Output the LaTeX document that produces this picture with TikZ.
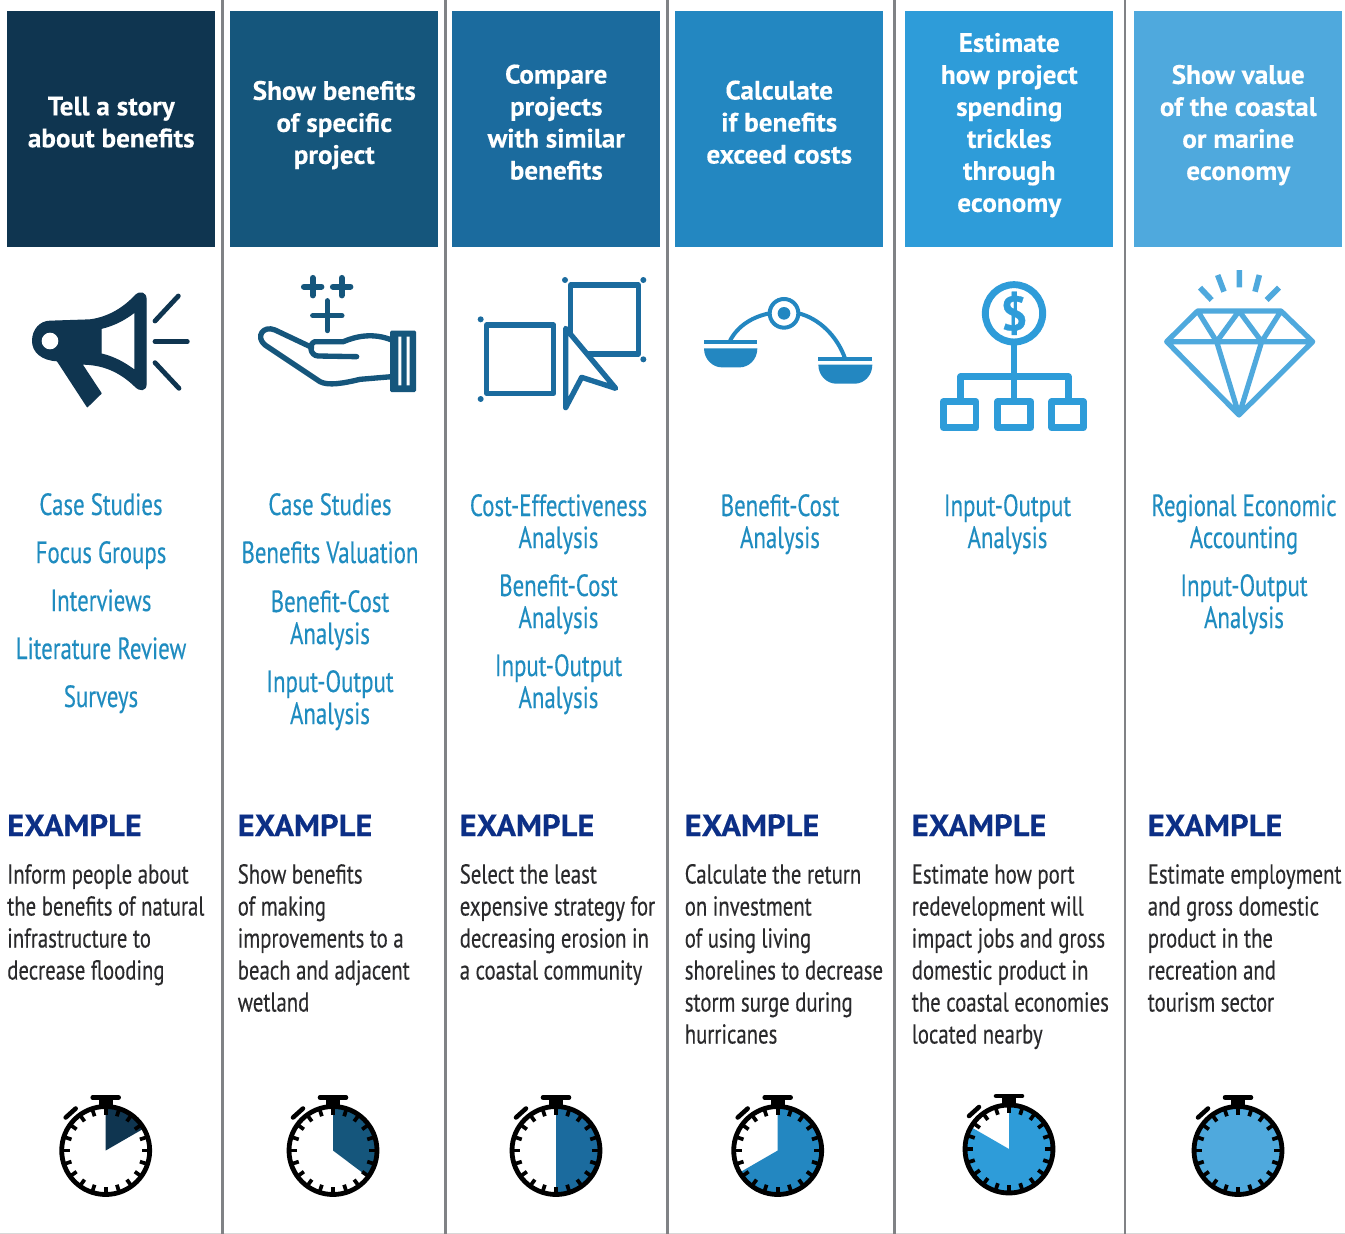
\documentclass[tikz,border=0pt]{standalone}
\usepackage{fontspec}
\setmainfont{PT Sans}
\newfontfamily\condfont[FakeStretch=0.745,FakeBold=0.25]{PT Sans}
\newfontfamily\bodyfont[FakeStretch=0.76,FakeBold=0.25]{PT Sans}
\newfontfamily\headfont[FakeStretch=1.02,FakeBold=0.2]{PT Sans Bold}
\newfontfamily\exfont[FakeStretch=1.06,FakeBold=0.2]{PT Sans Bold}
\newfontfamily\dollarfont[FakeBold=0.5]{PT Sans Bold}
\definecolor{cA}{HTML}{0F3550}
\definecolor{cB}{HTML}{15567C}
\definecolor{cC}{HTML}{1B6B9E}
\definecolor{cD}{HTML}{2387C1}
\definecolor{cE}{HTML}{2E9CD9}
\definecolor{cF}{HTML}{4FA9DD}
\definecolor{methodblue}{HTML}{1F8CC0}
\definecolor{navy}{HTML}{0C2F86}
\definecolor{bodyink}{HTML}{2A2A2C}
\definecolor{rule}{HTML}{808285}
\definecolor{faint}{HTML}{D8D8D8}
\tikzset{
  divider/.style={draw=rule,line width=1.6pt},
  headbox/.style={inner sep=0pt,minimum width=156pt,minimum height=176.6pt,anchor=north west},
  headtext/.style={inner sep=0pt,yshift=3.6pt,text=white,align=center,font=\headfont\fontsize{20}{24}\selectfont},
  method/.style={align=center,anchor=base,inner sep=0pt,text=methodblue,font=\condfont\fontsize{23}{24}\selectfont},
  extitle/.style={anchor=base west,inner sep=0pt,text=navy,font=\exfont\fontsize{23}{24}\selectfont},
  exbody/.style={align=left,anchor=base west,inner sep=0pt,text=bodyink,font=\bodyfont\fontsize{20.5}{24}\selectfont},
  zoomed/.style={x=0.25pt,y=-0.25pt},
}
\newcommand{\stopwatch}[4]{%
  \begin{scope}[shift={(#1,#2)},y=0.75pt]
    \fill[#3] (0,0) -- (0,44) arc[start angle=90,end angle=#4,radius=44] -- cycle;
    \draw[black,line width=3.6pt] (0,0) circle[radius=44];
    \foreach \a in {0,18,...,342}{\draw[black,line width=2.8pt] (\a:44) -- (\a:36);}
    \fill[black] (-7,44) rectangle (7,54);
    \draw[black,line width=3.4pt,line cap=round] (-13,53) -- (13,53);
    \draw[black,line width=3.4pt,line cap=round] (-40,33) -- (-30,42);
  \end{scope}}
\begin{document}
\begin{tikzpicture}[x=0.75pt,y=-0.75pt]
\useasboundingbox[fill=white] (0,0) rectangle (1345,1234);
% bottom edge
\coordinate (bl) at (0,1233.3); \coordinate (br) at (1345,1233.3);
\draw[faint,line width=0.8pt] (bl) -- (br);
% dividers
\coordinate (t1) at (222.5,0); \coordinate (b1) at (222.5,1234);
\coordinate (t2) at (445.5,0); \coordinate (b2) at (445.5,1234);
\coordinate (t3) at (667.5,0); \coordinate (b3) at (667.5,1234);
\coordinate (t4) at (894.5,0); \coordinate (b4) at (894.5,1234);
\coordinate (t5) at (1125,0); \coordinate (b5) at (1125,1234);
\foreach \i in {1,...,5}{\draw[divider] (t\i) -- (b\i);}
% headers
\node[headbox,fill=cA] (h1) at (7,11) {};
\node[headbox,fill=cB] (h2) at (230,11) {};
\node[headbox,fill=cC] (h3) at (452,11) {};
\node[headbox,fill=cD] (h4) at (675,11) {};
\node[headbox,fill=cE] (h5) at (905,11) {};
\node[headbox,fill=cF] (h6) at (1134,11) {};
\node[headtext,yshift=1.5pt] (ht1) at (h1.center) {Tell a story\\about benefits};
\node[headtext,yshift=-0.7pt] (ht2) at (h2.center) {Show benefits\\of specific\\project};
\node[headtext,yshift=1.5pt] (ht3) at (h3.center) {Compare\\projects\\with similar\\benefits};
\node[headtext,yshift=1.5pt] (ht4) at (h4.center) {Calculate\\if benefits\\exceed costs};
\node[headtext,yshift=-0.7pt] (ht5) at (h5.center) {Estimate\\how project\\spending\\trickles\\through\\economy};
\node[headtext,yshift=-0.7pt] (ht6) at (h6.center) {Show value\\of the coastal\\or marine\\economy};
% icon 1: megaphone
\begin{scope}[shift={(0,260)},zoomed]
  \fill[cA,even odd rule,line join=round,draw=cA,line width=1pt]
    (150,184) -- (270,180) .. controls (330,172) and (375,140) .. (405,108)
    .. controls (420,92) and (438,98) .. (438,118) -- (438,372)
    .. controls (438,392) and (420,394) .. (405,378)
    .. controls (360,335) and (310,312) .. (245,312) -- (303,400) -- (262,440) -- (172,302)
    .. controls (125,300) and (98,275) .. (98,243) .. controls (98,208) and (122,184) .. (150,184) -- cycle
    (303,205) .. controls (345,195) and (375,178) .. (405,155) -- (405,332)
    .. controls (375,310) and (345,292) .. (303,282) -- cycle;
  \fill[white] (150,243) circle[radius=25];
  \draw[cA,line width=3.6pt,line cap=round] (465,183) -- (535,108);
  \draw[cA,line width=3.6pt,line cap=round] (465,245) -- (562,245);
  \draw[cA,line width=3.6pt,line cap=round] (465,308) -- (537,385);
\end{scope}
% icon 2: hand
\begin{scope}[shift={(0,260)},zoomed]
  \draw[cB,line width=4.6pt,line cap=round] (912,80) -- (964,80) (938,54) -- (938,106);
  \draw[cB,line width=4.6pt,line cap=round] (999,80) -- (1051,80) (1025,54) -- (1025,106);
  \draw[cB,line width=3.8pt,line cap=round] (938,167) -- (1026,167) (982,122) -- (982,212);
  \draw[cB,line width=4pt,line cap=round,line join=round]
    (1175,240) .. controls (1120,218) and (1070,228) .. (1030,245) -- (945,245)
    .. controls (925,250) and (930,288) .. (955,288) -- (1070,290);
  \draw[cB,line width=4pt,line cap=round,line join=round]
    (935,262) -- (825,210) .. controls (790,195) and (765,230) .. (795,255)
    -- (960,365) .. controls (985,378) and (1030,370) .. (1080,358) -- (1175,350);
  \fill[cB,rounded corners=1pt] (1170,212) rectangle (1248,396);
  \fill[white] (1195,230) rectangle (1204,376) (1220,230) rectangle (1229,376);
  \draw[cB,line width=3pt,line cap=round] (1178,245) -- (1178,272) (1178,335) -- (1178,375);
\end{scope}
% icon 3: squares and pointer
\begin{scope}[shift={(450,260)},zoomed]
  \draw[cC,line width=4pt,line join=round] (110,195) rectangle (311,400);
  \draw[cC,line width=4pt,line join=round] (362,75) rectangle (565,282);
  \draw[cC,fill=white,line width=4pt,line join=round]
    (347,205) -- (497,385) -- (395,352) -- (347,443) -- cycle;
  \foreach \p in {(92,178),(92,417),(345,60),(580,60),(580,298)}{\fill[cC] \p circle[radius=9];}
\end{scope}
% icon 4: balance
\begin{scope}[shift={(450,260)},zoomed]
  \draw[cD,line width=3pt] (958,160) .. controls (910,170) and (865,195) .. (840,242);
  \draw[cD,line width=3pt] (1046,160) .. controls (1105,175) and (1160,225) .. (1185,295);
  \draw[cD,line width=3pt] (1002,160) circle[radius=43];
  \fill[cD] (1002,160) circle[radius=19];
  \fill[cD] (762,240) rectangle (922,252);
  \fill[cD] (762,265) -- (922,265) .. controls (922,300) and (895,322) .. (870,322) -- (815,322) .. controls (790,322) and (762,300) .. (762,265) -- cycle;
  \fill[cD] (1105,292) rectangle (1267,303);
  \fill[cD] (1105,314) -- (1267,314) .. controls (1267,349) and (1240,371) .. (1215,371) -- (1158,371) .. controls (1133,371) and (1105,349) .. (1105,314) -- cycle;
\end{scope}
% icon 5: money tree
\begin{scope}[shift={(900,260)},zoomed]
  \draw[cE,line width=5.2pt] (342,160) circle[radius=86];
  \node[inner sep=0pt,text=cE,font=\dollarfont\fontsize{36}{36}\selectfont] (dollar) at (342,160) {\$};
  \draw[cE,line width=4.8pt,line join=round] (342,250) -- (342,425);
  \draw[cE,line width=4.8pt,line join=round] (182,425) -- (182,350) -- (505,350) -- (505,425);
  \draw[cE,line width=5pt,line join=round] (130,425) rectangle (228,503);
  \draw[cE,line width=5pt,line join=round] (293,425) rectangle (392,503);
  \draw[cE,line width=5pt,line join=round] (455,425) rectangle (550,503);
\end{scope}
% icon 6: diamond
\begin{scope}[shift={(900,260)},zoomed]
  \draw[cF,line width=3.9pt,line join=round]
    (893,153) -- (1143,153) -- (1238,245) -- (1017,465) -- (800,245) -- cycle
    (800,245) -- (1238,245)
    (893,153) -- (950,245) -- (1017,153) -- (1085,245) -- (1143,153)
    (950,245) -- (1017,465) -- (1085,245);
  \draw[cF,line width=4.2pt]
    (900,83) -- (935,120) (953,45) -- (972,95) (1018,30) -- (1018,82)
    (1078,45) -- (1065,95) (1137,83) -- (1100,120);
\end{scope}
% methods (base = last line)
\node[method] (m1a) at (101,515) {Case Studies};
\node[method] (m1b) at (101,563) {Focus Groups};
\node[method] (m1c) at (101,611) {Interviews};
\node[method] (m1d) at (101,659) {Literature Review};
\node[method] (m1e) at (101,707) {Surveys};
\node[method] (m2a) at (330,515) {Case Studies};
\node[method] (m2b) at (330,563) {Benefits Valuation};
\node[method] (m2c) at (330,644) {Benefit-Cost\\Analysis};
\node[method] (m2d) at (330,724) {Input-Output\\Analysis};
\node[method] (m3a) at (558.5,548) {Cost-Effectiveness\\Analysis};
\node[method] (m3b) at (558.5,628) {Benefit-Cost\\Analysis};
\node[method] (m3c) at (558.5,708) {Input-Output\\Analysis};
\node[method] (m4a) at (780,548) {Benefit-Cost\\Analysis};
\node[method] (m5a) at (1007.5,548) {Input-Output\\Analysis};
\node[method] (m6a) at (1244,548) {Regional Economic\\Accounting};
\node[method] (m6b) at (1244,628) {Input-Output\\Analysis};
% examples
\node[extitle] (e1) at (7,836) {EXAMPLE};
\node[extitle] (e2) at (237.5,836) {EXAMPLE};
\node[extitle] (e3) at (459.5,836) {EXAMPLE};
\node[extitle] (e4) at (684.5,836) {EXAMPLE};
\node[extitle] (e5) at (911.5,836) {EXAMPLE};
\node[extitle] (e6) at (1147.5,836) {EXAMPLE};
\node[exbody] (x1) at (7,979.5) {Inform people about\\the benefits of natural\\infrastructure to\\decrease flooding};
\node[exbody] (x2) at (237.5,1011.5) {Show benefits\\of making\\improvements to a\\beach and adjacent\\wetland};
\node[exbody] (x3) at (459.5,979.5) {Select the least\\expensive strategy for\\decreasing erosion in\\a coastal community};
\node[exbody] (x4) at (684.5,1043.5) {Calculate the return\\on investment\\of using living\\shorelines to decrease\\storm surge during\\hurricanes};
\node[exbody] (x5) at (911.5,1043.5) {Estimate how port\\redevelopment will\\impact jobs and gross\\domestic product in\\the coastal economies\\located nearby};
\node[exbody] (x6) at (1147.5,1011.5) {Estimate employment\\and gross domestic\\product in the\\recreation and\\tourism sector};
% stopwatches
\stopwatch{105.7}{1150.5}{cA}{30}
\stopwatch{333}{1150.5}{cB}{-37}
\stopwatch{556}{1150.5}{cC}{-90}
\stopwatch{777.7}{1150.5}{cD}{-150}
\stopwatch{1009}{1149}{cE}{-210}
\stopwatch{1238}{1150.5}{cF}{-270}
\end{tikzpicture}
\end{document}
